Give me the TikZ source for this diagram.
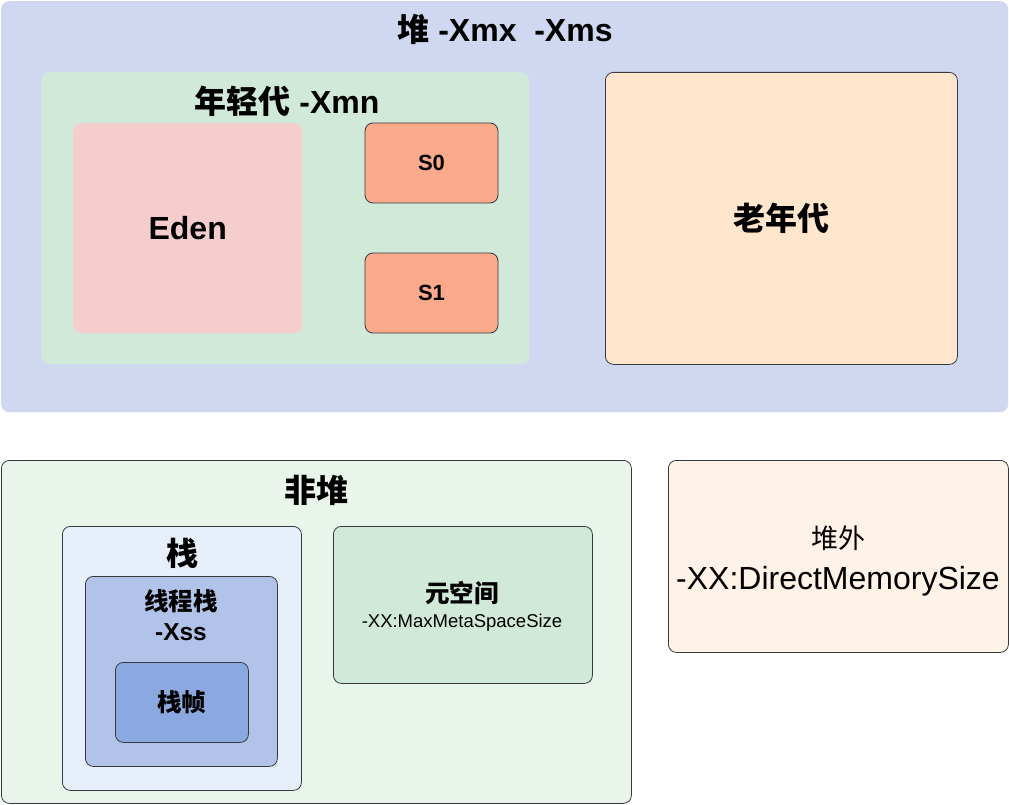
\documentclass[tikz,border=0pt]{standalone}
\usepackage{fontspec}
\setmainfont{Liberation Sans}
\newfontfamily\cjk{Noto Sans CJK SC}

\definecolor{heapfill}{HTML}{D0D8F1}
\definecolor{youngfill}{HTML}{D0E9D9}
\definecolor{edenfill}{HTML}{F5CDCD}
\definecolor{survfill}{HTML}{FCA98C}
\definecolor{oldfill}{HTML}{FFE6CD}
\definecolor{nonheapfill}{HTML}{E9F4EB}
\definecolor{stackfill}{HTML}{E6EFFA}
\definecolor{threadfill}{HTML}{B2C3EA}
\definecolor{framefill}{HTML}{8BA8E0}
\definecolor{metafill}{HTML}{D0E9D9}
\definecolor{offheapfill}{HTML}{FFF2E6}
\definecolor{edgegray}{HTML}{36393D}

\tikzset{
  area/.style={rounded corners=8pt, inner sep=0pt, anchor=north west},
  edged/.style={area, draw=edgegray, line width=0.8pt},
  bigtext/.style={font=\fontsize{32}{38}\selectfont\bfseries},
  midtext/.style={font=\fontsize{24.5}{30}\selectfont\bfseries, align=center},
}

\begin{document}
\begin{tikzpicture}[x=1pt,y=-1pt]
  \useasboundingbox (0,0) rectangle (1009,805);
  % heap
  \node[area, fill=heapfill, minimum width=1007, minimum height=411] (heap) at (1,1) {};
  \node[bigtext] (heaptitle) at (505,29) {{\cjk 堆} -Xmx\ \ -Xms};
  \node[area, fill=youngfill, minimum width=488, minimum height=292] (young) at (41,72) {};
  \node[bigtext] (youngtitle) at (287,101) {{\cjk 年轻代} -Xmn};
  \node[area, fill=edenfill, minimum width=229, minimum height=210] (eden) at (73,123) {};
  \node[bigtext] at (eden.center) {Eden};
  \node[edged, fill=survfill, minimum width=133, minimum height=80, font=\fontsize{22}{26}\selectfont\bfseries, anchor=center] (s0) at (431.5,163) {S0};
  \node[edged, fill=survfill, minimum width=133, minimum height=80, font=\fontsize{22}{26}\selectfont\bfseries, anchor=center] (s1) at (431.5,293) {S1};
  \node[edged, fill=oldfill, minimum width=352, minimum height=292] (old) at (605,72) {};
  \node[bigtext] at (old.center) {\cjk 老年代};
  % non-heap
  \node[edged, fill=nonheapfill, minimum width=630, minimum height=343] (nonheap) at (1,460) {};
  \node[bigtext] (nonheaptitle) at (316,490) {\cjk 非堆};
  \node[edged, fill=stackfill, minimum width=239, minimum height=264] (stack) at (62,526) {};
  \node[bigtext] (stacktitle) at (182,553) {\cjk 栈};
  \node[edged, fill=threadfill, minimum width=192, minimum height=190] (thread) at (85,576) {};
  \node[midtext] (threadtitle) at (181,615) {{\cjk 线程栈}\\-Xss};
  \node[edged, fill=framefill, minimum width=133, minimum height=80] (frame) at (115,662) {};
  \node[midtext] at (frame.center) {\cjk 栈帧};
  \node[edged, fill=metafill, minimum width=259, minimum height=157] (meta) at (333,526) {};
  \node[midtext] (metatitle) at (462,593) {\cjk 元空间};
  \node[font=\fontsize{18.5}{22}\selectfont] (metaopt) at (462,623) {-XX:MaxMetaSpaceSize};
  % off-heap
  \node[edged, fill=offheapfill, minimum width=340, minimum height=192] (offheap) at (668,460) {};
  \node[font=\fontsize{32}{41}\selectfont, align=center] (offtitle) at (838,561) {{\cjk\fontsize{27}{41}\selectfont 堆外}\\-XX:DirectMemorySize};
\end{tikzpicture}
\end{document}
